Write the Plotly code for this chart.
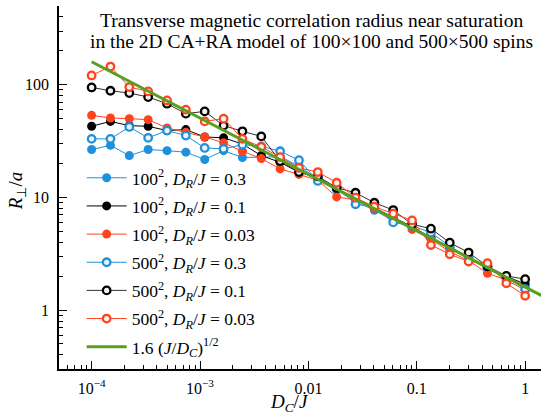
import plotly.graph_objects as go

x_dc = [1.0e-4, 1.492e-4, 2.227e-4, 3.324e-4, 4.962e-4, 7.404e-4, 1.105e-3, 1.650e-3,
        2.462e-3, 3.674e-3, 5.483e-3, 8.185e-3, 0.01222, 0.01823, 0.02721, 0.04061,
        0.06061, 0.09048, 0.1350, 0.2015, 0.3007, 0.4488, 0.6699, 1.0]

r_100_03 = [26.6, 29.0, 23.5, 26.6, 26.0, 25.2, 21.7, 26.0, 22.6, 22.9, 23.0, 19.0,
            14.5, 11.6, 9.2, 7.7, 6.2, 5.4, 4.4, 3.5, 2.85, 2.35, 1.9, 1.6]
r_100_01 = [42.8, 47.3, 43.3, 42.8, 39.2, 40.0, 34.4, 33.8, 29.8, 23.5, 20.5, 16.7,
            15.0, 12.0, 9.8, 8.1, 6.6, 5.5, 4.4, 3.6, 2.95, 2.34, 2.0, 1.7]
r_100_003 = [53.5, 50.7, 50.0, 49.0, 41.4, 37.8, 34.4, 30.5, 25.7, 22.1, 17.9, 16.0,
             14.2, 10.1, 9.5, 8.0, 6.4, 5.2, 4.25, 3.3, 2.75, 2.12, 1.85, 1.5]
r_500_03 = [33.1, 33.1, 42.2, 33.8, 39.2, 35.4, 27.5, 27.0, 29.4, 28.4, 25.7, 21.4,
            14.0, 12.5, 8.7, 8.2, 6.0, 5.6, 4.87, 3.7, 2.9, 2.4, 1.95, 1.53]
r_500_01 = [94.7, 88.5, 84.4, 77.8, 67.9, 55.4, 58.0, 43.4, 38.6, 34.8, 21.0, 16.8,
            15.4, 12.2, 11.0, 8.97, 7.72, 5.77, 5.28, 3.97, 3.24, 2.45, 2.01, 1.88]
r_500_003 = [121, 145, 95.4, 87.3, 72.6, 60.1, 47.3, 50.0, 33.1, 28.1, 22.8, 18.3,
             16.8, 13.5, 9.94, 8.27, 7.18, 6.25, 3.78, 3.13, 2.70, 2.61, 1.73, 1.34]

fit_x = [1.0e-4, 1.5]
fit_coef = 1.6

x_tickvals = [1e-4, 1e-3, 0.01, 0.1, 1]
x_ticktext = ["10<sup>\u22124</sup>", "10<sup>\u22123</sup>", "0.01", "0.1", "1"]
y_tickvals = [1, 10, 100]
y_ticktext = ["1", "10", "100"]

BLUE = "#1e90dc"
BLACK = "#000000"
RED = "#ff431c"
GREEN = "#5a9e1e"
FONT = "Liberation Serif"

X_RANGE = [-4.301, 0.146]
Y_RANGE = [-0.523, 2.699]

def minor_vals(lo, hi):
    out = []
    for e in range(lo, hi + 1):
        for m in range(2, 10):
            out.append(m * 10.0 ** e)
    return out

x_minor = minor_vals(-5, 0)
y_minor = minor_vals(-1, 2)

fig = go.Figure()

def lbl(n, d):
    return f"{n}<sup>2</sup>, <i>D</i><sub><i>R</i></sub>/<i>J</i> = {d}"

filled = [(r_100_03, BLUE, lbl(100, "0.3")),
          (r_100_01, BLACK, lbl(100, "0.1")),
          (r_100_003, RED, lbl(100, "0.03"))]
opened = [(r_500_03, BLUE, lbl(500, "0.3")),
          (r_500_01, BLACK, lbl(500, "0.1")),
          (r_500_003, RED, lbl(500, "0.03"))]

gi = 0
for ys, c, name in filled:
    gi += 1
    fig.add_trace(go.Scatter(x=x_dc, y=ys, mode="lines+markers", name=name,
                             legendgroup=f"g{gi}",
                             line=dict(color=c, width=1),
                             marker=dict(symbol="circle", size=9, color=c,
                                         line=dict(width=0))))
for ys, c, name in opened:
    gi += 1
    lc = "#333333" if c == BLACK else c
    fig.add_trace(go.Scatter(x=x_dc, y=ys, mode="lines+markers", name=name,
                             legendgroup=f"g{gi}",
                             line=dict(color=lc, width=1),
                             marker=dict(symbol="circle", size=7.5, color="#f2f2f2",
                                         line=dict(width=2.3, color=c))))

fit_y = [fit_coef * (1.0 / v) ** 0.5 for v in fit_x]
fig.add_trace(go.Scatter(x=fit_x, y=fit_y, mode="lines", legendgroup="g7",
                         name="1.6 (<i>J</i>/<i>D</i><sub><i>C</i></sub>)<sup>1/2</sup>",
                         line=dict(color=GREEN, width=3)))

def axis_style(minor_tv, show_labels=True):
    return dict(type="log", showgrid=False, zeroline=False, showline=True,
                linecolor="black", linewidth=1.5, mirror=False, automargin=False,
                ticks="inside", ticklen=8, tickwidth=1.2, tickcolor="black",
                showticklabels=show_labels,
                tickfont=dict(family=FONT, size=16, color="black"),
                minor=dict(ticks="inside", ticklen=4.5, tickwidth=1,
                           tickcolor="black", showgrid=False,
                           tickmode="array", tickvals=minor_tv))

fig.update_layout(
    width=545, height=417,
    margin=dict(l=59, r=4, t=6, b=48),
    paper_bgcolor="white", plot_bgcolor="white",
    font=dict(family=FONT, size=16, color="black"),
    showlegend=True,
    legend=dict(x=0.047, y=0.576, xanchor="left", yanchor="top",
                bgcolor="rgba(0,0,0,0)", font=dict(family=FONT, size=17.5),
                itemwidth=40, tracegroupgap=2.4),
    xaxis=dict(axis_style(x_minor), range=X_RANGE, tickvals=x_tickvals,
               ticktext=x_ticktext, ticklabelstandoff=4),
    yaxis=dict(axis_style(y_minor), range=Y_RANGE, tickvals=y_tickvals,
               ticktext=y_ticktext, ticklabelstandoff=5),
    xaxis2=dict(axis_style(x_minor, False), range=X_RANGE, tickvals=x_tickvals,
                overlaying="x", side="top", anchor="y"),
    yaxis2=dict(axis_style(y_minor, False), range=Y_RANGE, tickvals=y_tickvals,
                overlaying="y", side="right", anchor="x"),
    annotations=[
        dict(text="Transverse magnetic correlation radius near saturation",
             x=0.524, y=0.961, xref="paper", yref="paper",
             xanchor="center", yanchor="middle", showarrow=False,
             font=dict(family=FONT, size=19.5)),
        dict(text="in the 2D CA+RA model of 100\u00d7100 and 500\u00d7500 spins",
             x=0.524, y=0.902, xref="paper", yref="paper",
             xanchor="center", yanchor="middle", showarrow=False,
             font=dict(family=FONT, size=19.5)),
        dict(text="<i>D</i><sub><i>C</i></sub>/<i>J</i>",
             x=0.479, y=-0.094, xref="paper", yref="paper",
             xanchor="center", yanchor="middle", showarrow=False,
             font=dict(family=FONT, size=19)),
        dict(text="<i>R</i><sub>\u22a5</sub>/<i>a</i>",
             x=-0.087, y=0.49, xref="paper", yref="paper", textangle=-90,
             xanchor="center", yanchor="middle", showarrow=False,
             font=dict(family=FONT, size=19)),
    ],
)

fig.write_html("out.html", config={"displayModeBar": False},
               post_script="document.body.style.margin='0';document.body.style.padding='0';")
